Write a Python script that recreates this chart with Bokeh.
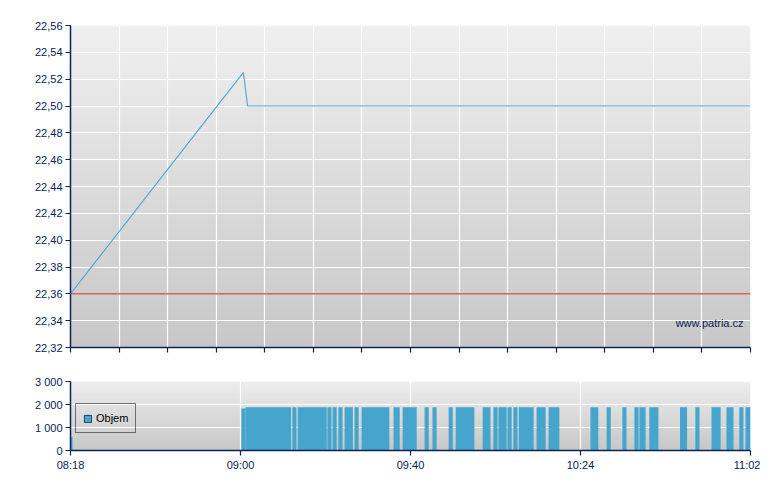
import numpy as np
from bokeh.plotting import figure
from bokeh.layouts import column
from bokeh.models import (Range1d, FixedTicker, CustomJSTickFormatter, Span, Label,
                          Legend, LegendItem, CustomLabelingPolicy)
from bokeh.embed import file_html
from bokeh.resources import INLINE

# ---------------- data ----------------
# time positions are minutes after 08:18 on the chart's (non-linear) time axis
price_t = [0, 41.7, 42.7, 164]
price_v = [22.36, 22.525, 22.50, 22.50]
prev_close = 22.36

vol_t = [0, 41.7,
         42.7, 43.7, 44.7, 45.7, 46.7, 47.7, 48.7, 49.7, 50.7, 51.7, 52.7,
         54.0,
         55.3, 56.3, 57.3, 58.3, 59.3, 60.3, 61.3, 62.45,
         63.7, 65.1,
         66.6, 67.6, 69.0,
         70.7, 71.7, 72.7, 73.7, 74.7, 75.7, 76.4,
         78.4, 78.9,
         80.6, 81.6, 82.6, 83.0,
         85.9, 87.8, 91.7,
         93.4, 94.4, 95.4, 96.4, 96.9,
         99.9, 100.8, 102.5,
         103.7, 104.7, 105.9,
         107.3,
         108.6, 109.6, 110.6, 111.2,
         112.9, 113.9, 114.1,
         115.8, 116.8, 117.4,
         125.9, 126.8,
         129.8, 133.6, 136.5,
         137.7, 138.2,
         140.1, 141.1, 141.3,
         147.5, 148.2,
         151.2,
         155.1, 156.1, 156.3,
         158.7, 159.4,
         161.8,
         163.3, 163.5]
vol_v = [580, 1830] + [1880] * (len(vol_t) - 2)
BAR_W = 1.0  # one minute per bar

x_tick_pos = [0, 41, 82, 123, 164]
x_tick_labels = ["08:18", "09:00", "09:40", "10:24", "11:02"]
price_ticks = [22.32, 22.34, 22.36, 22.38, 22.40, 22.42, 22.44, 22.46, 22.48,
               22.50, 22.52, 22.54, 22.56]
vol_ticks = [0, 1000, 2000, 3000]

# ---------------- style ----------------
NAVY = "#0b2257"
BLUE = "#45a5cc"
LINE_BLUE = "#55a9d0"
RED = "#e25f5f"
FONT = "Liberation Sans"
X0, X1 = 0, 164


def gradient(top_rgb, bottom_rgb, n=200):
    t = np.linspace(0.0, 1.0, n)[:, None]
    img = np.empty((n, 1), dtype=np.uint32)
    view = img.view(dtype=np.uint8).reshape((n, 1, 4))
    for k in range(3):
        view[:, :, k] = (bottom_rgb[k] + (top_rgb[k] - bottom_rgb[k]) * t).astype(np.uint8)
    view[:, :, 3] = 255
    return img


def merge_bars(ts, vs, w):
    """Merge touching/overlapping equal-height bars into blocks (avoids render seams)."""
    lefts, rights, tops = [], [], []
    for t, v in sorted(zip(ts, vs)):
        l, r = t - w / 2, t + w / 2
        if lefts and tops[-1] == v and l <= rights[-1] + 0.05:
            rights[-1] = max(rights[-1], r)
        else:
            lefts.append(l)
            rights.append(r)
            tops.append(v)
    return lefts, rights, tops


def style_axes(p):
    for ax in (p.xaxis[0], p.yaxis[0]):
        ax.axis_line_color = NAVY
        ax.axis_line_width = 1.5
        ax.major_tick_line_color = NAVY
        ax.major_tick_line_width = 1.2
        ax.major_tick_out = 5
        ax.major_tick_in = 0
        ax.minor_tick_line_color = None
        ax.major_label_text_color = NAVY
        ax.major_label_text_font = FONT
        ax.major_label_text_font_size = "11px"
    p.yaxis.major_label_standoff = 3
    p.xaxis.major_label_standoff = 3
    p.grid.grid_line_color = "white"
    p.grid.grid_line_width = 1.2
    p.outline_line_color = None
    p.background_fill_color = "white"
    p.border_fill_color = "white"


# ---------------- price chart ----------------
top = figure(frame_width=680, frame_height=322, output_backend="svg", toolbar_location=None,
             x_range=Range1d(X0, X1), y_range=Range1d(price_ticks[0], price_ticks[-1]),
             min_border_left=70, min_border_right=10, min_border_top=25, min_border_bottom=14)
style_axes(top)
top.image_rgba(image=[gradient((240, 240, 240), (200, 200, 200))], x=X0, y=price_ticks[0],
               dw=X1 - X0, dh=price_ticks[-1] - price_ticks[0], level="image")
top.yaxis.ticker = FixedTicker(ticks=price_ticks)
top.yaxis.formatter = CustomJSTickFormatter(code="return tick.toFixed(2).replace('.', ',');")
top.xaxis.ticker = FixedTicker(ticks=[X0 + (X1 - X0) * i / 14 for i in range(15)])
top.xaxis.major_label_standoff = 0
top.xaxis.major_label_policy = CustomLabelingPolicy(code="""
try { for (const i of Array.from(indices)) { indices.unset(i) } } catch (e) {}
return indices
""")
top.xaxis.major_label_text_font_size = "1px"

top.add_layout(Span(location=prev_close, dimension="width", line_color=RED, line_width=1.5))
top.line(price_t, price_v, line_color=LINE_BLUE, line_width=1.2)
top.add_layout(Label(x=X1, y=22.338, x_offset=-7, text="www.patria.cz", text_align="right",
                     text_baseline="middle", text_font=FONT, text_font_size="11px",
                     text_color=NAVY))

# ---------------- volume chart ----------------
bot = figure(frame_width=680, frame_height=69, output_backend="svg", toolbar_location=None,
             x_range=top.x_range, y_range=Range1d(vol_ticks[0], vol_ticks[-1]),
             min_border_left=70, min_border_right=10, min_border_top=20, min_border_bottom=25)
style_axes(bot)
bot.image_rgba(image=[gradient((238, 238, 238), (200, 200, 200))], x=X0, y=vol_ticks[0],
               dw=X1 - X0, dh=vol_ticks[-1] - vol_ticks[0], level="image")
bot.yaxis.ticker = FixedTicker(ticks=vol_ticks)
bot.yaxis.formatter = CustomJSTickFormatter(
    code="return tick.toFixed(0).replace(/\\B(?=(\\d{3})+(?!\\d))/g, ' ');")
bot.xaxis.ticker = FixedTicker(ticks=x_tick_pos)
bot.xaxis.major_label_overrides = {k: v for k, v in zip(x_tick_pos, x_tick_labels)}

bl, br, bt = merge_bars(vol_t, vol_v, BAR_W)
bot.quad(left=bl, right=br, top=bt, bottom=0, fill_color=BLUE, line_color=None)
# legend proxy (no visible data)
dummy = bot.vbar(x=[np.nan], top=[np.nan], width=1, fill_color=BLUE, line_color="#1d3f63",
                 line_width=1)
legend = Legend(items=[LegendItem(label="Objem", renderers=[dummy])], location=(5, 17),
                border_line_color="black", border_line_width=1, background_fill_alpha=0,
                padding=7, margin=0, spacing=0, glyph_width=9, glyph_height=9,
                label_height=14, label_standoff=4, label_text_font=FONT,
                label_text_font_size="11px", label_text_color="black")
bot.add_layout(legend)

layout = column(top, bot, spacing=0)
open("out.html", "w").write(file_html(layout, INLINE))
